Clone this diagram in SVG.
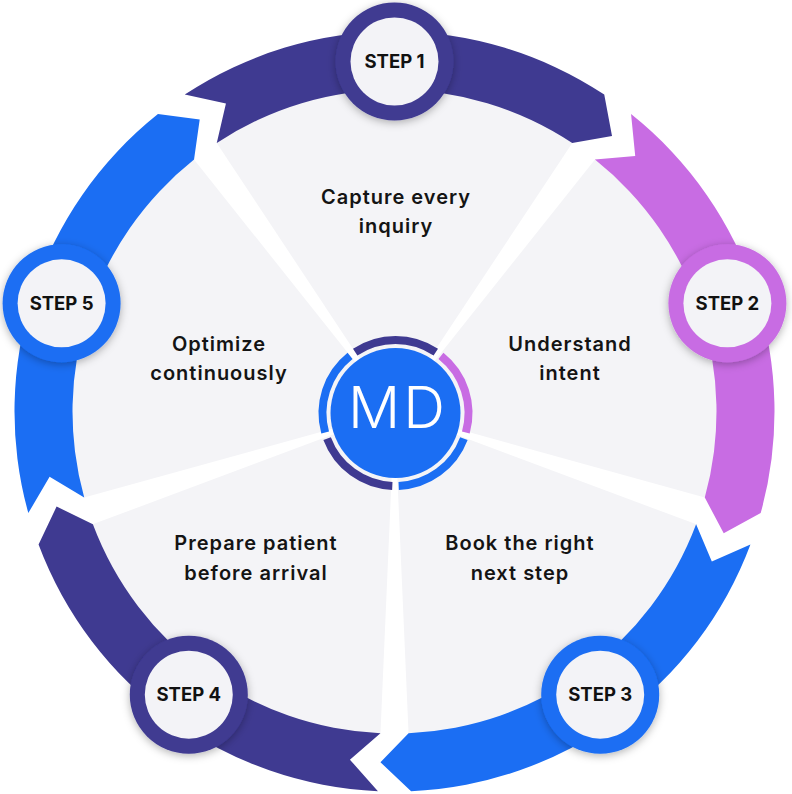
<svg xmlns="http://www.w3.org/2000/svg" xmlns:xlink="http://www.w3.org/1999/xlink" width="792" height="794" viewBox="0 0 792 794">
  <defs>
    <style>
      .lbl { font-family: Inter, "Open Sans", "Liberation Sans", sans-serif; font-weight: 600; font-size: 20px; fill: #141414; text-anchor: middle; letter-spacing: 1px; }
      .stp { font-family: Inter, "Open Sans", "Liberation Sans", sans-serif; font-weight: 700; font-size: 18.5px; fill: #111111; text-anchor: middle; }
      .md { font-family: Inter, "Open Sans", "Liberation Sans", sans-serif; font-weight: 300; font-size: 58px; fill: #ffffff; text-anchor: middle; letter-spacing: 3px; }
      .wedge { fill: #f4f4f7; }
      .cring { fill: none; stroke-width: 8; }
      .bin { fill: #f3f3f7; }
    </style>
    <path id="seg" d="M -209.74 -316.88 A 380 380 0 0 1 209.74 -316.88 L 217.51 -275.49 L 177.72 -268.51 A 322 322 0 0 0 -177.72 -268.51 L -168.56 -307.88 Z"/>
    <path id="wedge" d="M 0 0 L -178.28 -269.35 A 323 323 0 0 1 178.28 -269.35 Z"/>
    <path id="carc" d="M -40.29 -60.87 A 73 73 0 0 1 40.29 -60.87"/>
    <filter id="sh" x="-30%" y="-30%" width="160%" height="160%">
      <feDropShadow dx="0" dy="2" stdDeviation="4" flood-color="#000000" flood-opacity="0.3"/>
    </filter>
  </defs>
  <rect width="792" height="794" fill="#ffffff"/>

  <g id="sectors" transform="translate(394.5 411.5)">
    <use xlink:href="#wedge" class="wedge"/>
    <use xlink:href="#wedge" class="wedge" transform="rotate(72)"/>
    <use xlink:href="#wedge" class="wedge" transform="rotate(144)"/>
    <use xlink:href="#wedge" class="wedge" transform="rotate(216)"/>
    <use xlink:href="#wedge" class="wedge" transform="rotate(288)"/>
  </g>

  <g id="connectors" transform="translate(394.5 411.5)">
    <use xlink:href="#seg" fill="#3f3a91"/>
    <use xlink:href="#seg" fill="#c86ce3" transform="rotate(72)"/>
    <use xlink:href="#seg" fill="#1b6ef3" transform="rotate(144)"/>
    <use xlink:href="#seg" fill="#3f3a91" transform="rotate(216)"/>
    <use xlink:href="#seg" fill="#1b6ef3" transform="rotate(288)"/>
  </g>

  <g id="center">
    <g transform="translate(395.5 413)">
      <use xlink:href="#carc" class="cring" stroke="#3f3a91"/>
      <use xlink:href="#carc" class="cring" stroke="#c86ce3" transform="rotate(72)"/>
      <use xlink:href="#carc" class="cring" stroke="#1b6ef3" transform="rotate(144)"/>
      <use xlink:href="#carc" class="cring" stroke="#3f3a91" transform="rotate(216)"/>
      <use xlink:href="#carc" class="cring" stroke="#1b6ef3" transform="rotate(288)"/>
      <circle r="65" fill="#1b6ef3"/>
    </g>
    <text class="md" x="398" y="428">MD</text>
  </g>

  <g id="step1">
    <circle cx="394.5" cy="61.5" r="59" fill="#3f3a91" filter="url(#sh)"/>
    <circle cx="394.5" cy="61.5" r="44" class="bin"/>
    <text class="stp" x="394.5" y="68">STEP 1</text>
    <text class="lbl" x="396" y="204">Capture every</text>
    <text class="lbl" x="396" y="233">inquiry</text>
  </g>

  <g id="step2">
    <circle cx="727.4" cy="303.3" r="59" fill="#c86ce3" filter="url(#sh)"/>
    <circle cx="727.4" cy="303.3" r="44" class="bin"/>
    <text class="stp" x="727.4" y="309.8">STEP 2</text>
    <text class="lbl" x="570" y="351">Understand</text>
    <text class="lbl" x="570" y="380">intent</text>
  </g>

  <g id="step3">
    <circle cx="600.2" cy="694.7" r="59" fill="#1b6ef3" filter="url(#sh)"/>
    <circle cx="600.2" cy="694.7" r="44" class="bin"/>
    <text class="stp" x="600.2" y="701.2">STEP 3</text>
    <text class="lbl" x="520" y="550">Book the right</text>
    <text class="lbl" x="520" y="580">next step</text>
  </g>

  <g id="step4">
    <circle cx="188.8" cy="694.7" r="59" fill="#3f3a91" filter="url(#sh)"/>
    <circle cx="188.8" cy="694.7" r="44" class="bin"/>
    <text class="stp" x="188.8" y="701.2">STEP 4</text>
    <text class="lbl" x="256" y="550">Prepare patient</text>
    <text class="lbl" x="256" y="580">before arrival</text>
  </g>

  <g id="step5">
    <circle cx="61.6" cy="303.3" r="59" fill="#1b6ef3" filter="url(#sh)"/>
    <circle cx="61.6" cy="303.3" r="44" class="bin"/>
    <text class="stp" x="61.6" y="309.8">STEP 5</text>
    <text class="lbl" x="219" y="351">Optimize</text>
    <text class="lbl" x="219" y="380">continuously</text>
  </g>
</svg>
